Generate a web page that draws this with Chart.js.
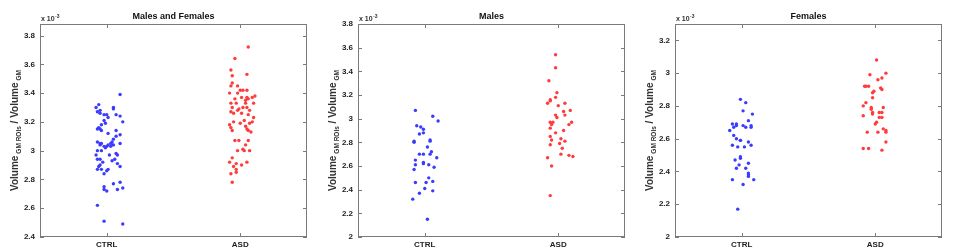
<!DOCTYPE html>
<html>
<head>
<meta charset="utf-8">
<script src="https://cdn.jsdelivr.net/npm/chart.js@4/dist/chart.umd.min.js"></script>
<style>
  html, body { margin: 0; padding: 0; background: #fff; }
  #wrap { position: relative; width: 957px; height: 252px; overflow: hidden; }
  canvas { position: absolute; top: 0; }
</style>
</head>
<body>
<div id="wrap">
  <canvas id="c1" width="318" height="252" style="left:0px"></canvas>
  <canvas id="c2" width="318" height="252" style="left:318px"></canvas>
  <canvas id="c3" width="318" height="252" style="left:635px"></canvas>
</div>
<script>
// values are in units of 1e-3, [jitter x, value]
const groups = ["CTRL", "ASD"];

const ctrlAll = [
  [1.10,3.39],[0.94,3.32],[0.92,3.30],[0.95,3.28],[0.93,3.27],[1.05,3.30],[1.05,3.29],
  [0.95,3.26],[0.98,3.25],[1.00,3.25],[1.07,3.25],[1.10,3.24],[0.98,3.21],[0.99,3.19],
  [1.12,3.20],[0.94,3.16],[0.93,3.15],[0.95,3.15],[0.96,3.14],[1.01,3.12],[1.10,3.11],
  [1.07,3.10],[1.05,3.08],[0.93,3.06],[0.95,3.05],[0.96,3.05],[1.01,3.04],[1.03,3.05],
  [1.04,3.06],[1.05,3.04],[1.03,3.03],[0.98,3.03],[0.99,3.02],[1.10,3.05],[0.93,3.00],
  [0.96,3.00],[1.02,2.97],[1.07,2.98],[1.08,2.97],[0.93,2.94],[0.95,2.94],[0.97,2.92],
  [1.06,2.94],[1.08,2.91],[1.10,2.89],[0.95,2.90],[0.96,2.87],[0.93,2.87],[1.01,2.87],
  [1.00,2.86],[0.98,2.84],[1.05,2.77],[1.10,2.78],[0.98,2.75],[0.98,2.73],[1.00,2.72],
  [1.08,2.73],[1.12,2.74],[0.93,2.62],[0.98,2.51],[1.12,2.49],[1.00,3.03],[0.95,3.04],
  [0.94,2.89],[1.04,2.93],[0.96,3.18],[1.07,3.14],[0.92,2.97],[1.01,3.23]
];
const asdAll = [
  [2.06,3.72],[1.96,3.64],[1.93,3.56],[1.94,3.52],[2.05,3.53],[1.94,3.47],[1.93,3.45],
  [1.98,3.45],[1.92,3.40],[2.00,3.42],[1.98,3.40],[2.02,3.42],[2.05,3.42],[2.11,3.38],
  [1.96,3.36],[2.05,3.37],[2.06,3.36],[2.04,3.35],[1.93,3.33],[1.97,3.33],[2.04,3.33],
  [2.10,3.33],[1.94,3.30],[1.99,3.29],[2.02,3.30],[2.05,3.30],[2.07,3.28],[1.98,3.28],
  [1.93,3.27],[2.01,3.26],[2.06,3.25],[1.95,3.20],[2.09,3.20],[2.00,3.19],[2.07,3.19],
  [1.92,3.18],[2.04,3.17],[1.93,3.16],[2.05,3.15],[1.94,3.14],[2.06,3.14],[2.08,3.13],
  [1.96,3.07],[1.99,3.07],[2.06,3.07],[2.04,3.04],[2.02,3.01],[2.03,3.00],[1.98,3.00],
  [2.07,3.00],[1.94,2.95],[1.92,2.92],[1.97,2.91],[2.05,2.92],[1.95,2.89],[2.01,2.90],
  [1.93,2.84],[1.97,2.85],[1.97,2.87],[1.94,2.78],[2.10,3.23],[2.03,3.21],[1.95,3.26],
  [2.09,3.37],[2.01,3.37]
];

const ctrlMales = [
  [0.93,3.07],[1.06,3.02],[1.10,2.98],[0.94,2.94],[0.97,2.93],[0.99,2.91],[0.99,2.88],
  [0.96,2.87],[1.04,2.82],[1.04,2.81],[0.92,2.81],[0.92,2.80],[1.02,2.76],[0.96,2.70],
  [0.99,2.70],[1.05,2.72],[1.04,2.70],[1.09,2.67],[0.93,2.65],[0.99,2.63],[0.99,2.62],
  [1.03,2.61],[0.93,2.61],[1.07,2.59],[0.92,2.57],[1.03,2.50],[1.01,2.46],[0.93,2.46],
  [1.06,2.47],[1.00,2.41],[1.06,2.39],[0.96,2.37],[0.91,2.32],[1.02,2.15]
];
const asdMales = [
  [1.98,3.54],[1.98,3.43],[1.93,3.32],[1.99,3.22],[1.98,3.18],[1.94,3.16],[1.94,3.15],
  [1.92,3.13],[2.05,3.13],[2.00,3.11],[2.09,3.07],[2.04,3.06],[2.05,3.03],[1.98,3.03],
  [1.99,3.01],[1.96,2.97],[1.94,2.97],[1.95,2.95],[2.10,2.97],[2.08,2.95],[1.94,2.92],
  [1.98,2.88],[2.04,2.90],[1.94,2.85],[2.02,2.83],[1.95,2.82],[2.05,2.81],[2.01,2.79],
  [1.94,2.78],[2.03,2.75],[2.02,2.70],[2.08,2.69],[2.11,2.68],[1.92,2.67],[1.95,2.60],
  [1.94,2.35]
];

const ctrlFemales = [
  [0.99,2.84],[1.03,2.82],[1.01,2.77],[1.08,2.75],[0.93,2.69],[0.96,2.69],[0.96,2.68],
  [0.94,2.67],[0.91,2.65],[1.01,2.68],[1.03,2.67],[1.07,2.68],[1.07,2.67],[1.05,2.71],
  [0.94,2.62],[0.96,2.60],[0.99,2.59],[0.99,2.59],[1.05,2.58],[1.07,2.56],[0.93,2.56],
  [0.97,2.55],[1.02,2.55],[0.99,2.49],[0.99,2.48],[0.95,2.47],[0.98,2.44],[1.05,2.45],
  [0.96,2.42],[1.03,2.42],[1.05,2.39],[1.05,2.38],[1.05,2.37],[0.93,2.35],[1.09,2.35],
  [1.01,2.32],[0.97,2.17]
];
const asdFemales = [
  [2.01,3.08],[2.08,3.00],[2.05,2.97],[1.96,2.99],[2.02,2.96],[1.93,2.92],[1.92,2.92],
  [1.95,2.92],[2.04,2.91],[2.05,2.90],[1.99,2.89],[1.98,2.88],[1.98,2.85],[1.93,2.82],
  [1.91,2.80],[2.06,2.79],[1.97,2.79],[1.97,2.78],[1.98,2.76],[1.98,2.75],[2.03,2.76],
  [2.05,2.76],[1.91,2.74],[2.03,2.73],[2.05,2.73],[2.01,2.70],[2.00,2.69],[2.06,2.66],
  [2.08,2.65],[2.08,2.64],[1.94,2.64],[2.02,2.64],[2.08,2.58],[1.91,2.54],[1.95,2.54],
  [2.05,2.53]
];

const yTicksAll = [2.4, 2.6, 2.8, 3, 3.2, 3.4, 3.6, 3.8];
const yTicksMales = [2, 2.2, 2.4, 2.6, 2.8, 3, 3.2, 3.4, 3.6, 3.8];
const yTicksFemales = [2, 2.2, 2.4, 2.6, 2.8, 3, 3.2];

const FONT = "'Liberation Sans', Arial, sans-serif";

const decor = {
  id: "decor",
  afterDraw(chart, args, opts) {
    const { ctx, chartArea: a, scales } = chart;
    const x = scales.x, y = scales.y;
    ctx.save();
    // box
    ctx.strokeStyle = "#7a7a7a";
    ctx.lineWidth = 1;
    ctx.strokeRect(Math.round(a.left) + 0.5, Math.round(a.top) + 0.5,
      Math.round(a.width) - 1, Math.round(a.height) - 1);
    // inner ticks
    ctx.beginPath();
    y.ticks.forEach(t => {
      const py = Math.round(y.getPixelForValue(t.value)) + 0.5;
      ctx.moveTo(a.left, py); ctx.lineTo(a.left + 4, py);
      ctx.moveTo(a.right - 4, py); ctx.lineTo(a.right, py);
    });
    x.ticks.forEach(t => {
      const px = Math.round(x.getPixelForValue(t.value)) + 0.5;
      ctx.moveTo(px, a.bottom); ctx.lineTo(px, a.bottom - 4);
      ctx.moveTo(px, a.top); ctx.lineTo(px, a.top + 4);
    });
    ctx.stroke();

    // title
    ctx.fillStyle = "#111";
    ctx.font = "bold 9px " + FONT;
    ctx.textAlign = "center";
    ctx.textBaseline = "alphabetic";
    ctx.fillText(opts.title, (a.left + a.right) / 2, 19);

    // exponent label
    ctx.textAlign = "left";
    ctx.fillStyle = "#333";
    ctx.font = "bold 7px " + FONT;
    ctx.fillText("x 10", a.left + 1, a.top - 3);
    const w = ctx.measureText("x 10").width;
    ctx.font = "bold 5px " + FONT;
    ctx.fillText("-3", a.left + 1 + w + 0.5, a.top - 6);

    // y axis title with subscripts
    const parts = [
      ["Volume", false], ["GM ROIs", true], [" / Volume", false], ["GM", true]
    ];
    const mainFont = "bold 10px " + FONT, subFont = "bold 6.5px " + FONT;
    let total = 0;
    parts.forEach(p => {
      ctx.font = p[1] ? subFont : mainFont;
      total += ctx.measureText(p[0]).width + (p[1] ? 2 : 0);
    });
    ctx.translate(15, (a.top + a.bottom) / 2);
    ctx.rotate(-Math.PI / 2);
    ctx.fillStyle = "#333";
    ctx.textBaseline = "middle";
    let u = -total / 2;
    parts.forEach(p => {
      ctx.font = p[1] ? subFont : mainFont;
      if (p[1]) u += 2;
      ctx.fillText(p[0], u, p[1] ? 4 : 0);
      u += ctx.measureText(p[0]).width;
    });
    ctx.restore();
  }
};

function makeChart(id, title, ctrl, asd, yTicks, yMin, yMax) {
  return new Chart(document.getElementById(id), {
    type: "scatter",
    data: {
      datasets: [
        {
          label: groups[0],
          data: ctrl.map(p => ({ x: p[0], y: p[1] })),
          backgroundColor: "#3b3bff",
          borderColor: "#3b3bff",
          pointRadius: 1.7,
          borderWidth: 0
        },
        {
          label: groups[1],
          data: asd.map(p => ({ x: p[0], y: p[1] })),
          backgroundColor: "#ff3b3b",
          borderColor: "#ff3b3b",
          pointRadius: 1.7,
          borderWidth: 0
        }
      ]
    },
    options: {
      responsive: false,
      animation: false,
      layout: { padding: { left: 0, right: 11, top: 24, bottom: 0 } },
      plugins: {
        legend: { display: false },
        tooltip: { enabled: false },
        decor: { title: title }
      },
      scales: {
        x: {
          type: "linear",
          min: 0.5,
          max: 2.5,
          grid: { display: false, drawTicks: false },
          border: { display: false },
          afterBuildTicks: s => { s.ticks = [{ value: 1 }, { value: 2 }]; },
          afterFit: s => { s.height = 15; },
          ticks: {
            autoSkip: false,
            padding: 3,
            color: "#222",
            font: { family: FONT, size: 8, weight: "bold" },
            callback: v => groups[Math.round(v) - 1]
          }
        },
        y: {
          type: "linear",
          min: yMin,
          max: yMax,
          grid: { display: false, drawTicks: false },
          border: { display: false },
          afterBuildTicks: s => { s.ticks = yTicks.map(v => ({ value: v })); },
          afterFit: s => { s.width = 40; },
          ticks: {
            autoSkip: false,
            padding: 5,
            color: "#222",
            font: { family: FONT, size: 8, weight: "bold" },
            callback: v => String(v)
          }
        }
      }
    },
    plugins: [decor]
  });
}

makeChart("c1", "Males and Females", ctrlAll, asdAll, yTicksAll, 2.4, 3.88);
makeChart("c2", "Males", ctrlMales, asdMales, yTicksMales, 2, 3.8);
makeChart("c3", "Females", ctrlFemales, asdFemales, yTicksFemales, 2, 3.3);
</script>
</body>
</html>
